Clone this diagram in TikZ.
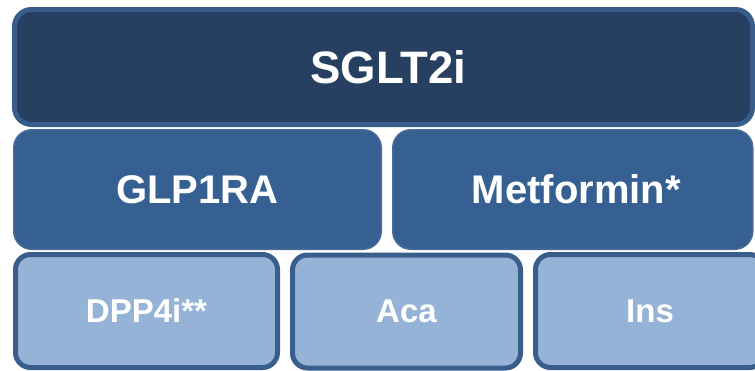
\documentclass[tikz,border=0pt]{standalone}
\usepackage{fontspec}
\setmainfont{Liberation Sans}
\definecolor{topfill}{HTML}{274061}
\definecolor{topline}{HTML}{385D8A}
\definecolor{midfill}{HTML}{366092}
\definecolor{midline}{HTML}{4A6C98}
\definecolor{lowfill}{HTML}{95B3D7}
\definecolor{lowline}{HTML}{3A5E8C}
\tikzset{
  topbox/.style={draw=topline, fill=topfill, line width=5pt, rounded corners=17pt,
    text=white, font=\bfseries\fontsize{45.5}{50}\selectfont, inner sep=0pt},
  midbox/.style={draw=midline, fill=midfill, line width=1.5pt, rounded corners=18pt,
    text=white, font=\bfseries\fontsize{40}{44}\selectfont, inner sep=0pt},
  lowbox/.style={draw=lowline, fill=lowfill, line width=5pt, rounded corners=15pt,
    text=white, font=\bfseries\fontsize{33}{38}\selectfont, inner sep=0pt}
}
\begin{document}
\begin{tikzpicture}[x=1pt,y=-1pt]
\useasboundingbox (0,0) rectangle (755,370);
\fill[white] (0,0) rectangle (755,370);
\node[topbox, minimum width=738pt, minimum height=115pt] (sglt) at (383.5,67) {\hspace*{10pt}SGLT2i};
\node[midbox, minimum width=367.5pt, minimum height=119.5pt] (glp) at (197.5,189.5) {GLP1RA};
\node[midbox, minimum width=360pt, minimum height=119.5pt] (met) at (572.75,189.5) {\hspace*{7pt}Metformin*};
\node[lowbox, minimum width=262pt, minimum height=113pt] (dpp) at (146.5,311) {DPP4i**};
\node[lowbox, minimum width=228pt, minimum height=113pt] (aca) at (406.5,311.5) {Aca};
\node[lowbox, minimum width=229pt, minimum height=113pt] (ins) at (650,311) {Ins};
\end{tikzpicture}
\end{document}
